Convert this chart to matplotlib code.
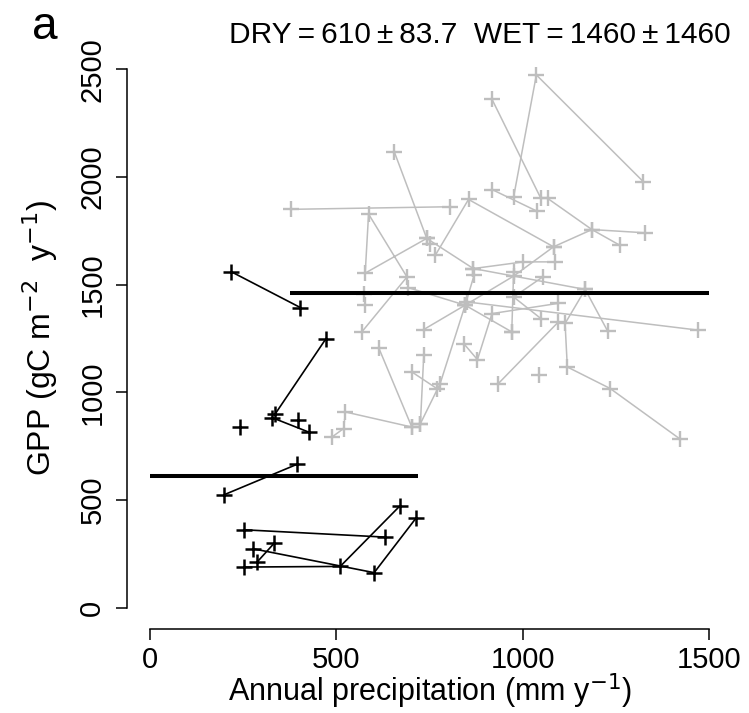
import numpy as np
import pandas as pd
import matplotlib
matplotlib.use('Agg')
import matplotlib.pyplot as plt

plt.rcParams['font.family'] = ['Liberation Sans', 'DejaVu Sans']

# dry sites (black): site id, precipitation (mm/y), GPP (gC/m2/y)
dry_site = [1, 1, 2, 2, 3, 3, 4, 5, 5, 6, 6, 7, 7, 7, 8, 8, 8, 9, 9, 10]
dry_precip = [219, 404, 473, 337, 328, 426, 243, 395, 200, 254, 632,
              277, 602, 715, 254, 511, 670, 334, 288, 397]
dry_gpp = [1560, 1394, 1250, 901, 883, 816, 839, 666, 525, 362, 328,
           274, 163, 418, 189, 192, 471, 300, 212, 874]

# wet sites (grey)
wet_site = [1, 1, 1, 2, 2, 3, 3, 4, 4, 4, 5, 5, 5, 5, 5, 6, 6,
            7, 7, 7, 7, 7, 8, 8, 8, 8, 8, 9, 9, 9, 10, 10, 10, 10,
            11, 11, 11, 11, 12, 12, 13, 13, 14, 14, 14, 15, 15, 15,
            16, 16, 16, 16, 17, 17, 18, 18, 19, 19, 19, 19, 20, 20,
            21, 21, 22, 22, 22, 22, 22, 23, 23, 24, 25]
wet_precip = [1324, 1037, 976, 918, 1049, 918, 1038, 1067, 1186, 1260,
              1329, 1186, 1083, 855, 766, 379, 806,
              656, 743, 868, 1002, 1087, 743, 578, 587, 690, 569,
              692, 846, 971, 870, 846, 779, 726,
              735, 846, 976, 1083, 976, 971, 851, 1471, 868, 1168, 1228,
              1054, 976, 1049, 842, 879, 918, 1094, 735, 726, 614, 703,
              489, 520, 525, 703, 703, 770, 935, 1096,
              1168, 1114, 1120, 1235, 1421, 574, 578, 1043, 752]
wet_gpp = [1978, 2474, 1908, 2361, 1901, 1942, 1842, 1901, 1756, 1684,
           1741, 1756, 1676, 1896, 1637, 1850, 1862,
           2117, 1715, 1575, 1606, 1606, 1715, 1554, 1828, 1536, 1281,
           1487, 1405, 1281, 1544, 1405, 1041, 855,
           1292, 1405, 1540, 1676, 1560, 1281, 1420, 1289, 1575, 1478, 1285,
           1536, 1443, 1343, 1227, 1152, 1366, 1413, 1172, 855, 1208, 839,
           793, 832, 909, 839, 1095, 1018, 1041, 1327,
           1478, 1320, 1118, 1018, 785, 1459, 1405, 1079, 1691]

dry_mean, dry_sd = 610, 83.7
wet_mean, wet_sd = 1460, 1460
dry_span = [0, 720]
wet_span = [375, 1500]

dry = pd.DataFrame({'site': dry_site, 'P': dry_precip, 'GPP': dry_gpp})
wet = pd.DataFrame({'site': wet_site, 'P': wet_precip, 'GPP': wet_gpp})

fig = plt.figure(figsize=(7.49, 7.13), dpi=100)
ax = fig.add_axes([0.16996, 0.11739, 0.80654, 0.81557])

grey = '#bebebe'
for s, g in wet.groupby('site'):
    ax.plot(g.P, g.GPP, color=grey, lw=1.1, marker='+', ms=12, mew=1.7, zorder=2)
for s, g in dry.groupby('site'):
    ax.plot(g.P, g.GPP, color='black', lw=1.2, marker='+', ms=12, mew=1.8, zorder=3)

# group means
ax.plot(dry_span, [dry_mean, dry_mean], color='black', lw=2.9, zorder=4, solid_capstyle='butt')
ax.plot(wet_span, [wet_mean, wet_mean], color='black', lw=2.9, zorder=4, solid_capstyle='butt')

ax.set_xlim(-60, 1560)
ax.set_ylim(-100, 2600)
ax.set_xticks([0, 500, 1000, 1500])
ax.set_yticks([0, 500, 1000, 1500, 2000, 2500])
for side in ['top', 'right']:
    ax.spines[side].set_visible(False)
ax.spines['bottom'].set_bounds(0, 1500)
ax.spines['left'].set_bounds(0, 2500)
for side in ['bottom', 'left']:
    ax.spines[side].set_linewidth(1.1)
ax.tick_params(length=7.6, width=1.1, labelsize=21)
ax.tick_params(axis='x', pad=4.5)
ax.tick_params(axis='y', pad=7.5)
for lab in ax.get_yticklabels():
    lab.set_rotation(90)
    lab.set_va('center')

fig.text(0.5735, 0.016, r'Annual precipitation (mm y$^{-1}$)', ha='center', va='baseline', fontsize=22)
fig.text(0.0535, 0.526, r'GPP (gC m$^{-2}$  y$^{-1}$)', ha='center', va='center', rotation=90, fontsize=23)
fig.text(0.975, 0.9397,
         'DRY\u2009=\u2009%d\u2009\u00b1\u2009%.1f  WET\u2009=\u2009%d\u2009\u00b1\u2009%d' % (dry_mean, dry_sd, wet_mean, wet_sd),
         ha='right', va='baseline', fontsize=21.5)
fig.text(0.043, 0.945, 'a', ha='left', va='baseline', fontsize=33)

fig.savefig('out.png', dpi=100)
